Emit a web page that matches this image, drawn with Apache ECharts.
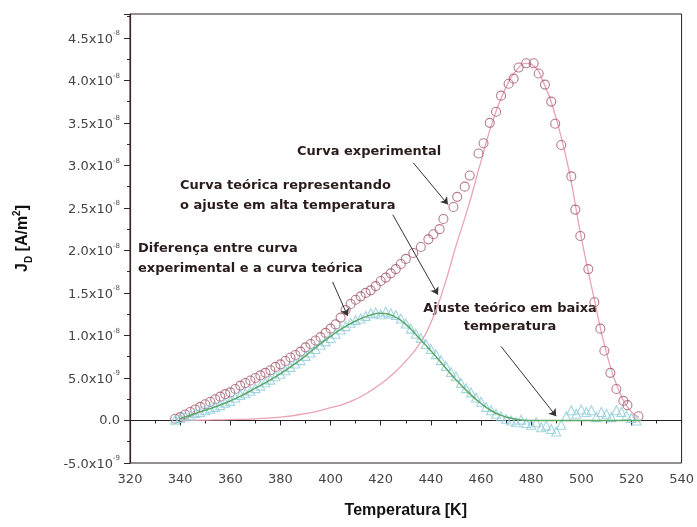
<!DOCTYPE html>
<html>
<head>
<meta charset="utf-8">
<script src="https://cdn.jsdelivr.net/npm/echarts@6/dist/echarts.min.js"></script>
<style>
html, body { margin: 0; padding: 0; background: #fff; }
#chart { width: 697px; height: 527px; }
</style>
</head>
<body>
<div id="chart"></div>
<script>
// densidade de corrente em unidades de 1e-8 A/m2
// curva experimental (circulos)
var tExp = [338,340,342,344,346,348,350,352,354,356,358,360,362,364,366,368,370,372,374,376,378,380,382,384,386,388,390,392,394,396,398,400,402,404,406,408,410,412,414,416,418,420,422,424,426,428,430,433,436,439,441,443.5,445,449,450.5,453.5,455.5,459,461,463.5,466,468,471,473,475,478,481,483,485.5,488,489.6,492,496,497.6,499.6,502.8,505.2,507.6,509.2,511.6,514,516.8,518.4,522.8];
var jExp = [0.02,0.04,0.07,0.10,0.13,0.16,0.19,0.22,0.25,0.28,0.31,0.33,0.37,0.41,0.44,0.47,0.50,0.53,0.56,0.59,0.63,0.66,0.70,0.74,0.77,0.81,0.86,0.90,0.94,0.98,1.03,1.08,1.13,1.21,1.30,1.37,1.42,1.46,1.50,1.53,1.58,1.64,1.68,1.73,1.78,1.84,1.90,1.97,2.04,2.13,2.19,2.25,2.37,2.51,2.63,2.75,2.88,3.14,3.26,3.50,3.63,3.82,3.96,4.02,4.15,4.20,4.20,4.08,3.95,3.75,3.49,3.24,2.87,2.48,2.17,1.78,1.39,1.08,0.82,0.56,0.37,0.23,0.18,0.05];

// ajuste teorico em alta temperatura (linha rosa)
var tAlta = [340,350,360,370,380,390,395,400,405,410,415,420,425,430,435,440,445,450,455,460,465,470,475,478,480,485,490,495,500,505,510,515,520,523];
var jAlta = [0.00,0.005,0.01,0.02,0.04,0.08,0.11,0.15,0.19,0.25,0.33,0.43,0.55,0.70,0.88,1.15,1.55,2.05,2.52,3.05,3.55,3.92,4.15,4.20,4.19,3.97,3.55,2.95,2.15,1.45,0.80,0.35,0.10,0.04];

// diferenca entre curva experimental e teorica (triangulos)
var tDif = [338,340,342,344,346,348,350,352,354,356,358,360,362,364,366,368,370,372,374,376,378,380,382,384,386,388,390,392,394,396,398,400,402,404,406,408,410,412,414,416,418,420,422,424,426,428,430,432,434,436,438,440,442,444,446,448,450,452,454,456,458,460,462,464,466,468,470,472,474,476,478,480,482,484,486,488,490,492,494,496,498,500,502,504,506,508,510,512,514,516,518,520,522];
var jDif = [0.01,0.03,0.05,0.06,0.09,0.10,0.12,0.14,0.16,0.18,0.21,0.23,0.27,0.30,0.32,0.35,0.38,0.41,0.45,0.48,0.52,0.55,0.59,0.63,0.67,0.71,0.76,0.80,0.84,0.89,0.93,0.97,1.02,1.07,1.11,1.15,1.18,1.20,1.23,1.26,1.27,1.25,1.28,1.26,1.24,1.20,1.14,1.08,1.02,0.97,0.90,0.84,0.78,0.71,0.64,0.57,0.52,0.44,0.38,0.33,0.27,0.22,0.16,0.12,0.08,0.05,0.02,0.00,-0.02,0.01,-0.03,-0.05,-0.02,-0.08,-0.06,-0.10,-0.13,-0.05,0.05,0.12,0.08,0.13,0.10,0.12,0.04,0.10,0.08,0.04,0.12,0.10,0.06,0.03,0.00];

// ajuste teorico em baixa temperatura (linha verde)
var tBaixa = [340,345,350,355,360,365,370,375,380,385,390,395,400,405,410,415,420,425,430,435,440,445,450,455,460,465,470,475,480,490,500,510,520,524];
var jBaixa = [0.02,0.07,0.12,0.17,0.23,0.30,0.38,0.46,0.55,0.65,0.76,0.88,0.99,1.09,1.17,1.23,1.26,1.23,1.13,0.98,0.82,0.65,0.48,0.33,0.20,0.10,0.04,0.01,0.00,0.00,0.00,0.00,0.00,0.00];

// setas das anotacoes (coordenadas nos eixos: T, J)
var setas = [
    [[433, 3.03], [446.8, 2.54]],
    [[424.8, 2.42], [442.8, 1.48]],
    [[400.8, 1.63], [406.8, 1.23]],
    [[468, 0.87], [490, 0.05]]
];

function pares(t, j) {
    var out = [];
    for (var i = 0; i < t.length; i++) out.push([t[i], j[i]]);
    return out;
}

function rotuloY(v) {
    var r = Math.round(v * 10);
    if (Math.abs(v * 10 - r) > 1e-6 || r % 5 != 0) return '';
    if (r == 0) return '0.0';
    if (Math.abs(r) < 10) return '{n|' + r.toFixed(0) + '.0x10}{e|-9}';
    return '{n|' + v.toFixed(1) + 'x10}{e|-8}';
}

var fonte = 'DejaVu Sans';
var corTexto = '#2a1c1c';
var fonteAnot = 'bold 13px "DejaVu Sans"';

var dom = document.getElementById('chart');
var myChart = echarts.init(dom);

var option = {
    animation: false,
    grid: {
        left: 130, right: 15, top: 14, bottom: 64,
        show: true, borderColor: '#2a2020', borderWidth: 1
    },
    xAxis: {
        type: 'value',
        min: 320, max: 540, interval: 20,
        name: 'Temperatura [K]',
        nameLocation: 'middle',
        nameGap: 40,
        nameTextStyle: { fontFamily: 'Liberation Sans', fontWeight: 'bold', fontSize: 16, color: '#111' },
        axisLine: { show: true, lineStyle: { color: '#2a2020', width: 1.2 } },
        axisTick: { show: true, length: 5, lineStyle: { color: '#2a2020' } },
        minorTick: { show: true, splitNumber: 2, length: 3, lineStyle: { color: '#2a2020' } },
        axisLabel: { fontFamily: fonte, fontSize: 13, color: '#444', margin: 10 },
        splitLine: { show: false }
    },
    yAxis: {
        type: 'value',
        min: -0.5, max: 4.78, interval: 0.5,
        name: '{a|J}{s|D}{a| [A/m}{p|2}{a|]}',
        nameLocation: 'middle',
        nameGap: 96,
        nameRotate: 90,
        nameTextStyle: {
            rich: {
                a: { fontFamily: 'Liberation Sans', fontWeight: 'bold', fontSize: 16, color: '#111', lineHeight: 22 },
                s: { fontFamily: 'Liberation Sans', fontWeight: 'bold', fontSize: 10, color: '#111', verticalAlign: 'bottom', lineHeight: 22 },
                p: { fontFamily: 'Liberation Sans', fontWeight: 'bold', fontSize: 10, color: '#111', verticalAlign: 'top', lineHeight: 22 }
            }
        },
        axisLine: { show: true, lineStyle: { color: '#3a2222', width: 1.2 } },
        axisTick: { show: true, length: 6, lineStyle: { color: '#3a2222' } },
        minorTick: { show: true, splitNumber: 2, length: 3, lineStyle: { color: '#3a2222' } },
        axisLabel: {
            margin: 10,
            formatter: rotuloY,
            fontFamily: fonte, fontSize: 13, color: '#444',
            rich: {
                n: { fontFamily: fonte, fontSize: 13, color: '#444', verticalAlign: 'bottom', lineHeight: 16 },
                e: { fontFamily: fonte, fontSize: 7, color: '#555', verticalAlign: 'top', lineHeight: 16 }
            }
        },
        splitLine: { show: false }
    },
    series: [
        {
            name: 'Ajuste alta temperatura',
            type: 'line',
            data: pares(tAlta, jAlta),
            smooth: true,
            showSymbol: false,
            lineStyle: { color: '#e9a3b5', width: 1.3 },
            z: 2
        },
        {
            name: 'Curva experimental',
            type: 'scatter',
            data: pares(tExp, jExp),
            symbol: 'circle',
            symbolSize: 9,
            itemStyle: { color: 'rgba(0,0,0,0)', borderColor: '#a45a6c', borderWidth: 1.1 },
            z: 3
        },
        {
            name: 'Diferenca',
            type: 'scatter',
            data: pares(tDif, jDif),
            symbol: 'triangle',
            symbolSize: 9,
            itemStyle: { color: 'rgba(0,0,0,0)', borderColor: '#8ccbd8', borderWidth: 1.1 },
            z: 3
        },
        {
            name: 'Ajuste baixa temperatura',
            type: 'line',
            data: pares(tBaixa, jBaixa),
            smooth: true,
            showSymbol: false,
            lineStyle: { color: '#5aa868', width: 1.5 },
            z: 4
        },
        {
            name: 'setas',
            type: 'line',
            data: [],
            z: 5,
            markLine: {
                silent: true,
                symbol: ['none', 'arrow'],
                symbolSize: 7,
                label: { show: false },
                lineStyle: { color: '#333', width: 1, type: 'solid' },
                data: setas.map(function (s) {
                    return [{ coord: s[0] }, { coord: s[1] }];
                })
            }
        }
    ],
    graphic: [
        { type: 'text', left: 297, top: 145, style: { text: 'Curva experimental', font: fonteAnot, fill: corTexto } },
        { type: 'text', left: 180, top: 176, style: { text: 'Curva teórica representando\no ajuste em alta temperatura', font: fonteAnot, fill: corTexto, lineHeight: 20 } },
        { type: 'text', left: 138, top: 239, style: { text: 'Diferença entre curva\nexperimental e a curva teórica', font: fonteAnot, fill: corTexto, lineHeight: 20 } },
        { type: 'text', x: 510, y: 300, style: { text: 'Ajuste teórico em baixa\ntemperatura', font: fonteAnot, fill: corTexto, lineHeight: 18, align: 'center' } }
    ]
};
myChart.setOption(option);
</script>
</body>
</html>
